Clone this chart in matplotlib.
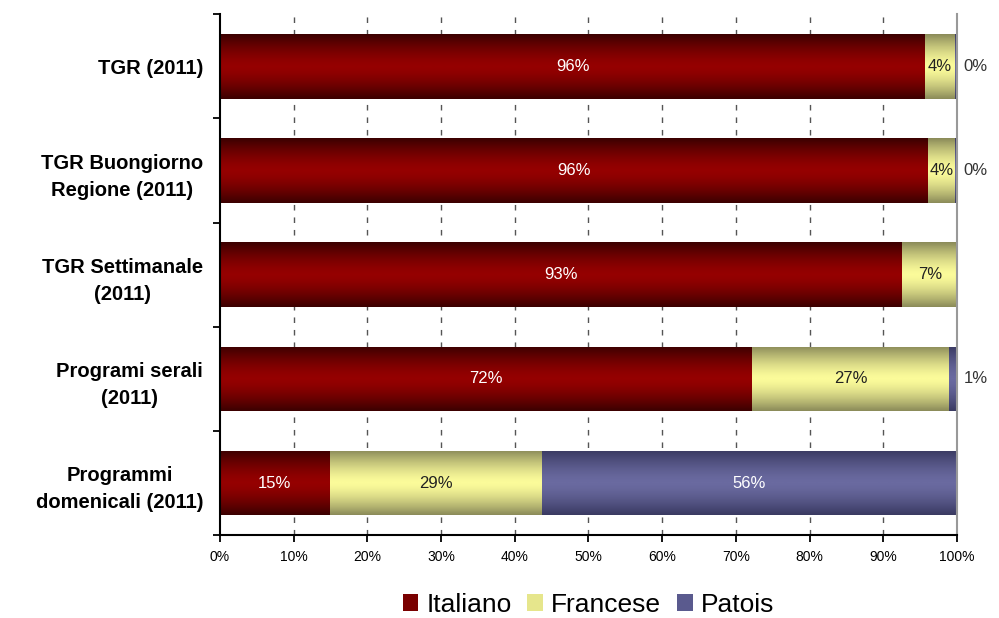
import numpy as np
import matplotlib
matplotlib.use("Agg")
import matplotlib.pyplot as plt
from matplotlib.colors import LinearSegmentedColormap

plt.rcParams['font.family'] = ['Liberation Sans', 'DejaVu Sans']

# data
categories = ['TGR (2011)', 'TGR Buongiorno\nRegione (2011)', 'TGR Settimanale\n(2011)',
              'Programi serali\n(2011)', 'Programmi\ndomenicali (2011)']
italiano = [95.7, 96.1, 92.6, 72.2, 14.9]
francese = [4.0, 3.6, 7.4, 26.7, 28.8]
patois = [0.3, 0.3, 0.0, 1.1, 56.3]
series_names = ['Italiano', 'Francese', 'Patois']
x_ticks = [0, 10, 20, 30, 40, 50, 60, 70, 80, 90, 100]

# colours: (edge, centre) for the vertical gradient of each series
shades = [('#3c0000', '#950000'), ('#8c8c5a', '#fbfb9a'), ('#3a3a62', '#6a6aa0')]
legend_colors = ['#7a0000', '#e6e68c', '#5a5a8e']
label_colors = ['white', '#222222', 'white']

fig = plt.figure(figsize=(9.99, 6.18), dpi=100)
ax = fig.add_axes([0.220, 0.134, 0.738, 0.843])

y = np.arange(len(categories))
h = 0.62
grad = np.abs(np.linspace(-1, 1, 64))[:, None]
grad = 1 - grad ** 1.5

left = np.zeros(len(categories))
for i, vals in enumerate([italiano, francese, patois]):
    vals = np.array(vals)
    bars = ax.barh(y, vals, height=h, left=left, color=legend_colors[i],
                   label=series_names[i], zorder=2, linewidth=0)
    cmap = LinearSegmentedColormap.from_list('s%d' % i, list(shades[i]))
    for b, v in zip(bars, vals):
        if v <= 0:
            continue
        x0, y0 = b.get_x(), b.get_y()
        im = ax.imshow(grad, extent=[x0, x0 + b.get_width(), y0, y0 + b.get_height()],
                       aspect='auto', cmap=cmap, vmin=0, vmax=1, zorder=2.5,
                       interpolation='bilinear')
        im.set_clip_path(b)
    # value labels
    for yi, l, v in zip(y, left, vals):
        if v <= 0:
            continue
        txt = '%d%%' % round(v)
        if v < 2:
            # tiny segments get their label outside the plot
            ax.text(102.5, yi, txt, ha='center', va='center', fontsize=12,
                    color='#333333', clip_on=False)
        else:
            ax.text(l + v / 2, yi, txt, ha='center', va='center', fontsize=12,
                    color=label_colors[i], zorder=4)
    left = left + vals

ax.set_xlim(0, 100)
ax.set_ylim(len(categories) - 0.5, -0.5)
ax.set_aspect('auto')

ax.set_xticks(x_ticks)
ax.set_xticklabels(['%d%%' % t for t in x_ticks], fontsize=10)
ax.set_yticks(np.arange(len(categories) + 1) - 0.5)
ax.set_yticklabels([])
ax.set_yticks(y, minor=True)
ax.set_yticklabels(categories, minor=True, fontsize=14.5, fontweight='bold',
                   ha='right', multialignment='center', linespacing=1.55)
ax.tick_params(axis='y', which='minor', length=0, pad=12)
ax.tick_params(axis='y', which='major', length=5, width=1.3, direction='out')
ax.tick_params(axis='x', length=5, width=1.3, direction='out', pad=6)

for t in x_ticks[1:-1]:
    ax.axvline(t, color='#555555', linestyle=(0, (4, 5)), linewidth=1, zorder=1)

ax.spines['top'].set_visible(False)
ax.spines['right'].set_color('#999999')
ax.spines['right'].set_linewidth(1.5)
ax.spines['left'].set_linewidth(1.5)
ax.spines['bottom'].set_linewidth(1.5)

ax.legend(loc='upper center', bbox_to_anchor=(0.5, -0.08), ncol=3, frameon=False,
          fontsize=19, handlelength=0.6, handleheight=0.6, handletextpad=0.3,
          columnspacing=0.6, borderpad=0.1)

fig.savefig('out.png', dpi=100)
